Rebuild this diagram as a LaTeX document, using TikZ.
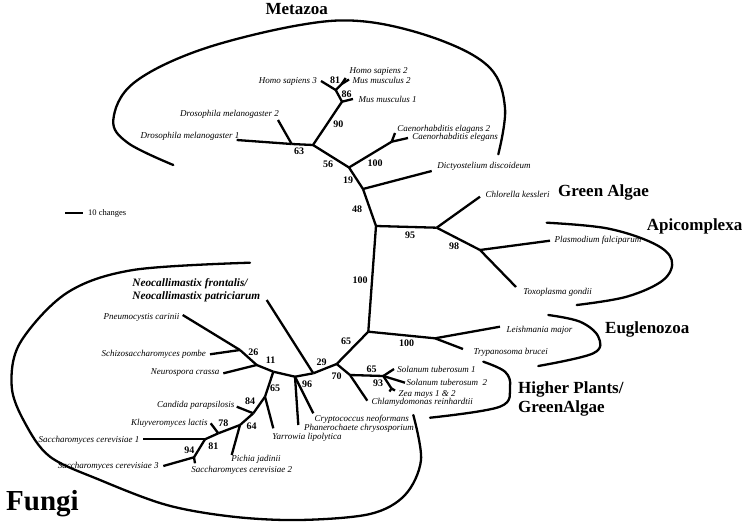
\documentclass[tikz,border=0pt]{standalone}
\usepackage{fontspec}
\setmainfont{Liberation Serif}
\usetikzlibrary{calc}
\tikzset{
  branch/.style={line width=2.3pt, line join=round},
  cladeloop/.style={line width=2.3pt, line cap=round},
  taxon/.style={font=\fontsize{9}{10}\selectfont\itshape, inner sep=0.5pt},
  boot/.style={font=\fontsize{10}{11}\selectfont\bfseries, inner sep=0pt},
  cladename/.style={font=\fontsize{17}{19}\selectfont\bfseries, inner sep=0pt, align=left}
}

\begin{document}
\begin{tikzpicture}[x=1pt,y=-1pt,
    bignote/.style={font=\fontsize{29}{31}\selectfont\bfseries, inner sep=0pt},
    neonote/.style={font=\fontsize{11.3}{13.4}\selectfont\bfseries\itshape, inner sep=0.5pt, align=left},
    scalenote/.style={font=\fontsize{8.5}{10}\selectfont, inner sep=0.5pt}
  ]
  \useasboundingbox (0,0) rectangle (745,527);

  % inner nodes
  \coordinate (hsj) at (335.7,90);
  \coordinate (hmj) at (341.7,84);
  \coordinate (mmj) at (342,101.7);
  \coordinate (metj) at (313,145);
  \coordinate (drj) at (291.7,144);
  \coordinate (n56) at (349,167.5);
  \coordinate (cej) at (391.7,141.7);
  \coordinate (n19) at (363,189);
  \coordinate (ctop) at (376,226);
  \coordinate (n95) at (436.7,227.7);
  \coordinate (n98) at (480,250);
  \coordinate (cbot) at (368.3,331.7);
  \coordinate (eug) at (435,338.3);
  \coordinate (n65) at (336.7,364);
  \coordinate (n70) at (350,375);
  \coordinate (sol) at (383.3,376);
  \coordinate (zm) at (391.5,388.5);
  \coordinate (n29) at (313.3,373.3);
  \coordinate (n96) at (295,376.7);
  \coordinate (n11b) at (273.3,371.7);
  \coordinate (n11) at (256.7,365);
  \coordinate (n26) at (240,350);
  \coordinate (n65f) at (265,396.7);
  \coordinate (n84) at (253.3,413.3);
  \coordinate (n64) at (240,425);
  \coordinate (n78) at (218.3,433.3);
  \coordinate (n81f) at (205,439.3);
  \coordinate (n94) at (194,457.3);

  % tips
  \coordinate (tHsIII) at (321,81);
  \coordinate (tHsII) at (345.7,78);
  \coordinate (tMmII) at (349,79.5);
  \coordinate (tMmI) at (353,99);
  \coordinate (tDmI) at (236.7,140);
  \coordinate (tDmII) at (278,120);
  \coordinate (tCeII) at (395,133);
  \coordinate (tCe) at (408,138);
  \coordinate (tDd) at (431.7,171);
  \coordinate (tCk) at (480,196.7);
  \coordinate (tPf) at (550,240.7);
  \coordinate (tTg) at (516,287);
  \coordinate (tLm) at (500,326.7);
  \coordinate (tTb) at (463,349);
  \coordinate (tStI) at (394,369);
  \coordinate (tStII) at (405,382.7);
  \coordinate (tZmI) at (389.5,391.5);
  \coordinate (tZmII) at (395,390.5);
  \coordinate (tCr) at (367.3,400.7);
  \coordinate (tNeo) at (266.7,300);
  \coordinate (tCn) at (313.3,413.3);
  \coordinate (tPc) at (298.3,425);
  \coordinate (tNc) at (223.3,373.3);
  \coordinate (tSp) at (210,354.3);
  \coordinate (tPcar) at (182.7,315);
  \coordinate (tYl) at (273.3,428.3);
  \coordinate (tCp) at (236.7,406.7);
  \coordinate (tPj) at (231.7,455);
  \coordinate (tKl) at (210.7,423.3);
  \coordinate (tScI) at (143.3,439.3);
  \coordinate (tScIII) at (163.3,466);
  \coordinate (tScII) at (195,463.3);

  \foreach \a/\b in {tHsIII/hsj,hsj/hmj,hmj/tHsII,hmj/tMmII,hsj/mmj,mmj/tMmI,mmj/metj,
      metj/drj,drj/tDmI,drj/tDmII,metj/n56,n56/cej,cej/tCeII,cej/tCe,n56/n19,n19/tDd,
      n19/ctop,ctop/n95,n95/tCk,n95/n98,n98/tPf,n98/tTg,ctop/cbot,cbot/eug,eug/tLm,
      eug/tTb,cbot/n65,n65/n70,n70/sol,sol/tStI,sol/tStII,sol/zm,zm/tZmI,zm/tZmII,
      n70/tCr,n65/n29,n29/tNeo,n29/n96,n96/tCn,n96/tPc,n96/n11b,n11b/n11,n11/tNc,
      n11/n26,n26/tSp,n26/tPcar,n11b/n65f,n65f/tYl,n65f/n84,n84/tCp,n84/n64,n64/tPj,
      n64/n78,n78/tKl,n78/n81f,n81f/tScI,n81f/n94,n94/tScIII,n94/tScII}
    \draw[branch] (\a) -- (\b);

  % taxa
  \node[taxon, anchor=west] (lHsII) at (349,71) {Homo sapiens 2};
  \node[taxon, anchor=west] (lMmII) at (352,80) {Mus musculus 2};
  \node[taxon, anchor=west] (lMmI) at (358,99) {Mus musculus 1};
  \node[taxon, anchor=east] (lHsIII) at (317.5,81) {Homo sapiens 3};
  \node[taxon, anchor=east] (lDmII) at (279.5,114.3) {Drosophila melanogaster 2};
  \node[taxon, anchor=east] (lDmI) at (240,136) {Drosophila melanogaster 1};
  \node[taxon, anchor=west] (lCeII) at (396.7,129) {Caenorhabditis elagans 2};
  \node[taxon, anchor=west] (lCe) at (411.7,137.7) {Caenorhabditis elegans};
  \node[taxon, anchor=west] (lDd) at (436.7,166.7) {Dictyostelium discoideum};
  \node[taxon, anchor=west] (lCk) at (485,194) {Chlorella kessleri};
  \node[taxon, anchor=west] (lPf) at (554,240.7) {Plasmodium falciparum};
  \node[taxon, anchor=west] (lTg) at (522.7,292) {Toxoplasma gondii};
  \node[taxon, anchor=west] (lLm) at (506,330) {Leishmania major};
  \node[taxon, anchor=west] (lTb) at (473,352.7) {Trypanosoma brucei};
  \node[taxon, anchor=west] (lStI) at (396.7,369) {Solanum tuberosum 1};
  \node[taxon, anchor=west] (lStII) at (406,382.7) {Solanum tuberosum~~2};
  \node[taxon, anchor=west] (lZm) at (398,394) {Zea mays 1 \& 2};
  \node[taxon, anchor=west] (lCr) at (371,402.7) {Chlamydomonas reinhardtii};
  \node[taxon, anchor=west] (lCn) at (314,419.3) {Cryptococcus neoformans};
  \node[taxon, anchor=west] (lPc) at (303.3,428.7) {Phanerochaete chrysosporium};
  \node[taxon, anchor=west] (lYl) at (271.7,437.3) {Yarrowia lipolytica};
  \node[taxon, anchor=west] (lPj) at (230.7,459.3) {Pichia jadinii};
  \node[taxon, anchor=west] (lScII) at (190.7,470.7) {Saccharomyces cerevisiae 2};
  \node[taxon, anchor=east] (lScIII) at (159.3,466) {Saccharomyces cerevisiae 3};
  \node[taxon, anchor=east] (lScI) at (140,440) {Saccharomyces cerevisiae 1};
  \node[taxon, anchor=east] (lKl) at (208.3,423.3) {Kluyveromyces lactis};
  \node[taxon, anchor=east] (lCp) at (235,405) {Candida parapsilosis};
  \node[taxon, anchor=east] (lNc) at (220,372.7) {Neurospora crassa};
  \node[taxon, anchor=east] (lSp) at (206.7,354) {Schizosaccharomyces pombe};
  \node[taxon, anchor=east] (lPcar) at (180,317.3) {Pneumocystis carinii};
  \node[neonote, anchor=west] (lNeo) at (131.7,290) {Neocallimastix frontalis/\\Neocallimastix patriciarum};

  % bootstrap values
  \node[boot] (b81) at (335,80) {81};
  \node[boot] (b86) at (346.7,94) {86};
  \node[boot] (b90) at (338.3,124) {90};
  \node[boot] (b63) at (299,151) {63};
  \node[boot] (b56) at (328,164) {56};
  \node[boot] (bce) at (375,163) {100};
  \node[boot] (b19) at (348,180) {19};
  \node[boot] (b48) at (357,209) {48};
  \node[boot] (b95) at (410,235) {95};
  \node[boot] (b98) at (454,246.7) {98};
  \node[boot] (bctr) at (360,280) {100};
  \node[boot] (beug) at (406.7,343) {100};
  \node[boot] (b65) at (346,341.7) {65};
  \node[boot] (b70) at (336.7,376.7) {70};
  \node[boot] (b65p) at (371.7,369.3) {65};
  \node[boot] (b93) at (378,383.3) {93};
  \node[boot] (b29) at (321.7,362) {29};
  \node[boot] (b96) at (307,384) {96};
  \node[boot] (b11) at (270.7,360) {11};
  \node[boot] (b26) at (253.3,352.7) {26};
  \node[boot] (b65f) at (275,388.3) {65};
  \node[boot] (b84) at (250,401.7) {84};
  \node[boot] (b64) at (251.7,426.7) {64};
  \node[boot] (b78) at (223.3,423.3) {78};
  \node[boot] (b81f) at (213.3,446.7) {81};
  \node[boot] (b94) at (189.3,450) {94};

  % clade outlines
  \draw[cladeloop] plot[smooth, tension=0.6] coordinates {(173.3,165) (128,143) (113.3,120)
    (133.3,83.3) (200,50) (300,25) (366.7,21.7) (440,40) (490,68) (505,108) (498.3,154.3)};
  \draw[cladeloop] plot[smooth, tension=0.6] coordinates {(546.7,222.7) (606.7,228.3)
    (653.3,243.3) (671.7,260) (663.3,280) (626.7,296.7) (576.7,305)};
  \draw[cladeloop] plot[smooth, tension=0.6] coordinates {(548.3,315) (580,321.7)
    (598.3,336.7) (593.3,353.3) (538.3,366)};
  \draw[cladeloop] plot[smooth, tension=0.6] coordinates {(483.3,361.7) (505,371.7)
    (510,386.7) (500,406.7) (430,417.7)};
  \draw[cladeloop] plot[smooth, tension=0.55] coordinates {(250,262.7) (133,270) (66.7,293)
    (20,343) (11.7,386.7) (25,423) (50,456.7) (100,480) (166.7,505) (233,516.7) (300,520)
    (370,514) (405,495) (421,460) (413.3,415)};

  % clade names
  \node[cladename] (cMet) at (296.7,9.5) {Metazoa};
  \node[cladename, anchor=west] (cGa) at (558,192) {Green Algae};
  \node[cladename, anchor=west] (cApi) at (646.7,226.7) {Apicomplexa};
  \node[cladename, anchor=west] (cEug) at (605,329.3) {Euglenozoa};
  \node[cladename, anchor=west] (cHp) at (518,398.5) {Higher Plants/\\GreenAlgae};
  \node[bignote, anchor=base west] (cFun) at (6,510) {Fungi};

  % scale
  \coordinate (sbL) at (65,213.3);
  \coordinate (sbR) at (83.3,213.3);
  \draw[branch] (sbL) -- (sbR);
  \node[scalenote, anchor=west] (sbT) at (87.5,213.3) {10 changes};
\end{tikzpicture}
\end{document}
